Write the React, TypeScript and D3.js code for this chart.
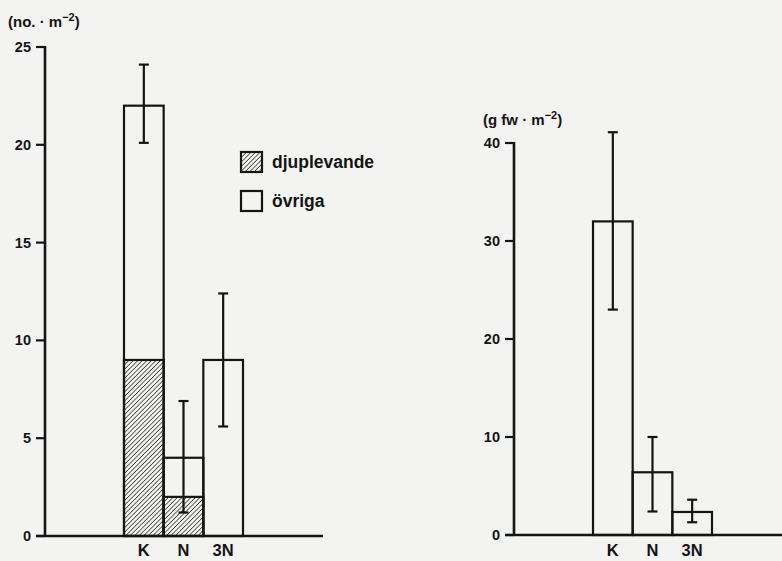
import React from "react";
import * as d3 from "d3";

// Bottom fauna near the outlets: abundance (left) and biomass (right)
const categories = ["K", "N", "3N"];

const countTotal = [22, 4, 9];
const countDeep = [9, 2, 0];
const countErrLow = [20.1, 1.2, 5.6];
const countErrHigh = [24.1, 6.9, 12.4];
const countTicks = [0, 5, 10, 15, 20, 25];

const massValue = [32, 6.4, 2.35];
const massErrLow = [23, 2.4, 1.3];
const massErrHigh = [41.1, 10, 3.6];
const massTicks = [0, 10, 20, 30, 40];

const legendLabels = ["djuplevande", "övriga"];

const W = 782;
const H = 561;
const INK = "#141414";
const FONT = "'Liberation Sans', Arial, sans-serif";

const left = { axisX: 45, base: 536, top: 47, x0: 124, x1: 243, end: 323 };
const right = { axisX: 514, base: 535, top: 143, x0: 593, x1: 712, end: 782 };

const yCount = d3.scaleLinear().domain([0, 25]).range([left.base, left.top]);
const yMass = d3.scaleLinear().domain([0, 40]).range([right.base, right.top]);
const xLeft = d3.scaleBand().domain(categories).range([left.x0, left.x1]).padding(0);
const xRight = d3.scaleBand().domain(categories).range([right.x0, right.x1]).padding(0);

const txt = { fontFamily: FONT, fontWeight: 700, fill: INK } as const;

function YAxis({ y, ticks, axisX }: { y: d3.ScaleLinear<number, number>; ticks: number[]; axisX: number }) {
  const [lo, hi] = y.domain();
  return (
    <g>
      <line x1={axisX} x2={axisX} y1={y(lo) + 1} y2={y(hi) - 1} stroke={INK} strokeWidth={2.6} />
      {ticks.map((t) => (
        <g key={t}>
          <line x1={axisX - 9} x2={axisX} y1={y(t)} y2={y(t)} stroke={INK} strokeWidth={2.2} />
          <text x={axisX - 14} y={y(t) + 5} textAnchor="end" fontSize={14.5} {...txt}>
            {t}
          </text>
        </g>
      ))}
    </g>
  );
}

function ErrorBar({ cx, yLo, yHi }: { cx: number; yLo: number; yHi: number }) {
  const cap = 5;
  return (
    <g stroke={INK} strokeWidth={2.2}>
      <line x1={cx} x2={cx} y1={yLo} y2={yHi} />
      <line x1={cx - cap} x2={cx + cap} y1={yLo} y2={yLo} />
      <line x1={cx - cap} x2={cx + cap} y1={yHi} y2={yHi} />
    </g>
  );
}

function XLabels({ x }: { x: d3.ScaleBand<string> }) {
  return (
    <g>
      {categories.map((c) => (
        <text key={c} x={(x(c) ?? 0) + x.bandwidth() / 2} y={556} textAnchor="middle" fontSize={16.5} {...txt}>
          {c}
        </text>
      ))}
    </g>
  );
}

function UnitTitle({ x, y, prefix }: { x: number; y: number; prefix: string }) {
  return (
    <text x={x} y={y} fontSize={15} {...txt}>
      {prefix}
      <tspan dy={-6} fontSize={11}>−2</tspan>
      <tspan dy={6}>)</tspan>
    </text>
  );
}

export default function App() {
  const bw = xLeft.bandwidth();
  const bwR = xRight.bandwidth();
  return (
    <svg
      width={W}
      height={H}
      viewBox={`0 0 ${W} ${H}`}
      style={{ position: "absolute", left: 0, top: 0, background: "#f3f3f1" }}
    >
      <defs>
        <pattern id="hatch" patternUnits="userSpaceOnUse" width={3.2} height={3.2} patternTransform="rotate(45)">
          <line x1={0} y1={0} x2={0} y2={3.2} stroke={INK} strokeWidth={1.3} />
        </pattern>
      </defs>

      {/* Left panel: number of individuals */}
      <UnitTitle x={8} y={27} prefix="(no. · m" />

      {categories.map((c, i) => {
        const x = xLeft(c) ?? 0;
        const deep = countDeep[i];
        return (
          <g key={c}>
            <rect
              x={x}
              y={yCount(countTotal[i])}
              width={bw}
              height={yCount(0) - yCount(countTotal[i])}
              fill="none"
              stroke={INK}
              strokeWidth={2.2}
            />
            {deep > 0 && (
              <rect
                x={x}
                y={yCount(deep)}
                width={bw}
                height={yCount(0) - yCount(deep)}
                fill="url(#hatch)"
                stroke={INK}
                strokeWidth={2.2}
              />
            )}
          </g>
        );
      })}
      {categories.map((c, i) => (
        <ErrorBar key={c} cx={(xLeft(c) ?? 0) + bw / 2} yLo={yCount(countErrLow[i])} yHi={yCount(countErrHigh[i])} />
      ))}

      <YAxis y={yCount} ticks={countTicks} axisX={left.axisX} />
      <line x1={left.axisX - 9} x2={left.end} y1={left.base} y2={left.base} stroke={INK} strokeWidth={2.6} />
      <XLabels x={xLeft} />

      {/* Legend */}
      {legendLabels.map((label, i) => {
        const ly = 152 + i * 39;
        return (
          <g key={label}>
            <rect
              x={241}
              y={ly}
              width={21}
              height={20}
              fill={i === 0 ? "url(#hatch)" : "none"}
              stroke={INK}
              strokeWidth={2.2}
            />
            <text x={272} y={ly + 16} fontSize={17.5} {...txt}>
              {label}
            </text>
          </g>
        );
      })}

      {/* Right panel: fresh weight */}
      <UnitTitle x={483} y={125} prefix="(g fw · m" />

      {categories.map((c, i) => {
        const x = xRight(c) ?? 0;
        return (
          <rect
            key={c}
            x={x}
            y={yMass(massValue[i])}
            width={bwR}
            height={yMass(0) - yMass(massValue[i])}
            fill="none"
            stroke={INK}
            strokeWidth={2.2}
          />
        );
      })}
      {categories.map((c, i) => (
        <ErrorBar key={c} cx={(xRight(c) ?? 0) + bwR / 2} yLo={yMass(massErrLow[i])} yHi={yMass(massErrHigh[i])} />
      ))}

      <YAxis y={yMass} ticks={massTicks} axisX={right.axisX} />
      <line x1={right.axisX - 9} x2={right.end} y1={right.base} y2={right.base} stroke={INK} strokeWidth={2.6} />
      <XLabels x={xRight} />
    </svg>
  );
}
